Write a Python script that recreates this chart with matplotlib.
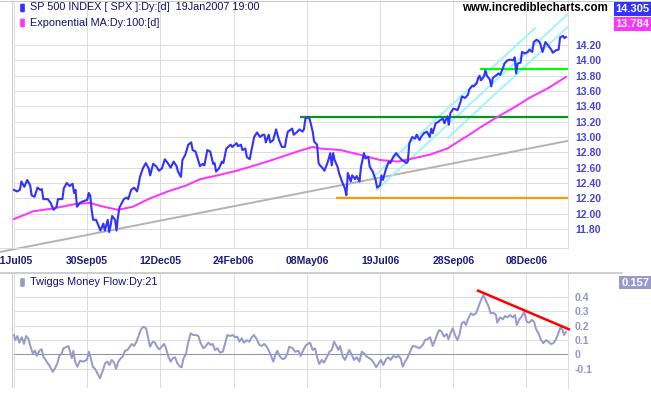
import matplotlib.pyplot as plt
from matplotlib.patches import Rectangle, FancyBboxPatch
from matplotlib.lines import Line2D

plt.rcParams['font.family'] = ['Liberation Sans', 'DejaVu Sans']

# x = trading days counted from 21 Jul 2005
date_ticks = [0, 50, 100, 150, 200, 250, 300, 350]
date_labels = ["21Jul05", "30Sep05", "12Dec05", "24Feb06", "08May06", "19Jul06", "28Sep06", "08Dec06"]
price_ticks = [11.8, 12.0, 12.2, 12.4, 12.6, 12.8, 13.0, 13.2, 13.4, 13.6, 13.8, 14.0, 14.2]
tmf_ticks = [-0.1, 0, 0.1, 0.2, 0.3, 0.4]
tmf_tick_labels = ["-0.1", "0", "0.1", "0.2", "0.3", "0.4"]

price_day = [0, 2, 4, 5, 7, 9, 11, 12, 14, 16, 18, 19, 20, 23, 25, 27, 29, 30, 33, 34,
             36, 38, 40, 41, 42, 43, 45, 47, 50, 51, 52, 53, 54, 56, 58, 59, 61, 62, 64, 65,
             66, 67, 69, 70, 71, 72, 75, 77, 78, 80, 82, 84, 85, 86, 88, 90, 92, 93, 95, 97,
             99, 101, 103, 105, 107, 109, 111, 112, 114, 115, 117, 119, 121, 122, 124, 127, 129, 130, 132, 134,
             136, 137, 138, 140, 142, 143, 145, 148, 149, 152, 153, 155, 156, 158, 159, 161, 162, 164, 166, 168,
             170, 171, 172, 174, 175, 177, 179, 181, 183, 185, 186, 187, 190, 191, 193, 195, 197, 198, 199, 201,
             202, 204, 205, 207, 208, 209, 211, 212, 214, 215, 216, 217, 218, 219, 221, 222, 224, 226, 227, 228,
             230, 231, 233, 234, 236, 237, 239, 240, 242, 243, 245, 247, 248, 250, 251, 252, 254, 256, 257, 259,
             261, 263, 265, 266, 268, 269, 270, 272, 274, 275, 277, 278, 280, 282, 284, 285, 286, 288, 290, 291,
             293, 294, 296, 297, 298, 300, 302, 303, 305, 306, 308, 310, 311, 313, 314, 316, 317, 318, 319, 321,
             322, 323, 325, 326, 327, 329, 331, 332, 334, 335, 337, 339, 341, 342, 343, 344, 346, 347, 349, 351,
             352, 354, 355, 357, 359, 360, 361, 363, 365, 367, 368, 370, 372, 373, 375, 376, 377]
price_val = [12.31, 12.29, 12.31, 12.42, 12.35, 12.44, 12.37, 12.24, 12.22, 12.34, 12.31, 12.32, 12.19, 12.19, 12.14, 12.05, 12.09, 12.19, 12.19, 12.33,
             12.40, 12.36, 12.39, 12.27, 12.31, 12.09, 12.14, 12.16, 12.18, 12.27, 12.24, 12.05, 11.92, 11.92, 11.83, 11.78, 11.87, 11.78, 11.92, 11.76,
             11.85, 11.97, 11.92, 11.78, 11.96, 12.08, 12.19, 12.21, 12.19, 12.31, 12.34, 12.29, 12.37, 12.48, 12.59, 12.66, 12.59, 12.50, 12.65, 12.62,
             12.56, 12.59, 12.71, 12.66, 12.60, 12.68, 12.62, 12.55, 12.48, 12.70, 12.77, 12.90, 12.93, 12.83, 12.81, 12.62, 12.65, 12.63, 12.83, 12.81,
             12.65, 12.66, 12.55, 12.59, 12.68, 12.66, 12.85, 12.90, 12.87, 12.92, 12.88, 12.90, 12.83, 12.85, 12.74, 12.71, 12.81, 13.00, 13.06, 13.00,
             13.03, 13.03, 12.93, 13.03, 12.93, 12.96, 13.10, 12.96, 12.87, 12.87, 12.98, 13.07, 13.11, 13.03, 13.06, 13.10, 13.07, 13.10, 13.24, 13.26,
             13.23, 13.07, 12.94, 12.90, 12.66, 12.63, 12.59, 12.56, 12.66, 12.72, 12.79, 12.63, 12.79, 12.70, 12.61, 12.53, 12.42, 12.33, 12.24, 12.53,
             12.42, 12.50, 12.45, 12.49, 12.42, 12.61, 12.79, 12.72, 12.74, 12.61, 12.55, 12.44, 12.34, 12.37, 12.50, 12.44, 12.58, 12.68, 12.66, 12.74,
             12.79, 12.74, 12.70, 12.69, 12.66, 12.68, 12.92, 13.00, 12.98, 13.03, 12.96, 13.00, 13.05, 13.07, 13.00, 13.11, 13.05, 13.18, 13.20, 13.22,
             13.24, 13.18, 13.27, 13.16, 13.31, 13.37, 13.36, 13.35, 13.46, 13.53, 13.51, 13.55, 13.62, 13.67, 13.66, 13.70, 13.77, 13.80, 13.74, 13.79,
             13.87, 13.80, 13.75, 13.66, 13.77, 13.80, 13.83, 13.81, 13.90, 13.96, 14.00, 14.01, 14.00, 14.04, 13.83, 13.96, 13.97, 14.11, 14.09, 14.11,
             14.14, 14.11, 14.24, 14.27, 14.24, 14.18, 14.11, 14.24, 14.19, 14.14, 14.10, 14.13, 14.14, 14.30, 14.32, 14.29, 14.305]

ema_day = [0, 13, 27, 43, 52, 59, 71, 81, 93, 105, 118, 127, 139, 150, 161, 173, 184, 195, 204, 209,
           223, 236, 250, 262, 270, 284, 296, 305, 311, 318, 330, 341, 352, 365, 377]
ema_val = [11.93, 12.03, 12.07, 12.13, 12.14, 12.10, 12.05, 12.09, 12.20, 12.29, 12.37, 12.45, 12.50, 12.55, 12.61, 12.68, 12.75, 12.82, 12.87, 12.85,
           12.83, 12.77, 12.70, 12.68, 12.71, 12.77, 12.85, 12.96, 13.03, 13.12, 13.26, 13.38, 13.51, 13.64, 13.784]

tmf_day = [0.0, 0.7, 2.3, 3.6, 5.3, 6.8, 8.2, 9.8, 10.9, 12.8, 14.3, 15.5, 17.3, 18.9, 20.0, 22.3, 24.6, 26.4, 28.0, 29.6,
           30.9, 32.6, 33.7, 35.5, 37.1, 38.3, 39.4, 40.5, 41.7, 43.2, 45.1, 47.3, 49.7, 51.2, 52.4, 53.8, 55.3, 56.9, 58.7, 60.6,
           62.2, 63.7, 65.1, 66.7, 68.3, 69.7, 71.2, 72.9, 74.2, 75.8, 77.4, 78.8, 80.4, 82.0, 83.3, 84.9, 86.5, 88.3, 90.2, 91.7,
           92.9, 94.7, 96.3, 97.9, 99.2, 100.9, 102.5, 103.8, 105.4, 107.0, 108.4, 110.0, 111.5, 113.4, 114.5, 115.6, 117.5, 119.1, 120.7, 122.5,
           124.3, 125.9, 127.5, 129.3, 131.1, 132.7, 134.4, 135.7, 137.3, 138.9, 140.7, 142.6, 144.1, 145.7, 147.5, 149.4, 151.0, 152.5, 153.9, 155.5,
           157.1, 158.9, 160.7, 162.4, 163.9, 165.8, 167.6, 169.2, 170.8, 172.6, 174.4, 176.0, 177.1, 178.3, 179.8, 181.7, 183.5, 185.1, 186.7, 188.0,
           190.4, 191.9, 194.2, 195.8, 197.6, 199.5, 202.2, 204.0, 205.6, 207.2, 208.5, 210.2, 211.7, 213.6, 215.4, 217.0, 218.6, 219.9, 221.5, 222.7,
           224.5, 226.1, 227.7, 229.0, 230.7, 232.2, 234.1, 235.9, 237.5, 239.1, 240.9, 242.7, 244.3, 245.9, 247.3, 248.8, 250.5, 252.3, 254.1, 255.7,
           257.3, 259.1, 260.9, 262.5, 264.1, 265.5, 267.1, 268.6, 270.5, 272.3, 274.6, 276.8, 279.2, 280.7, 282.3, 284.2, 286.0, 287.6, 289.1, 290.5,
           292.1, 293.7, 295.6, 296.7, 298.3, 299.7, 301.2, 302.8, 304.2, 305.8, 307.4, 308.7, 310.3, 312.0, 313.7, 315.6, 317.1, 318.8, 320.6, 322.4,
           324.0, 325.6, 327.4, 329.2, 330.1, 332.0, 333.8, 335.4, 337.0, 338.8, 340.6, 342.2, 343.4, 345.2, 346.8, 348.4, 350.2, 352.0, 353.6, 355.2,
           356.6, 358.1, 359.8, 361.5, 363.4, 364.9, 366.6, 368.4, 370.2, 371.8, 373.4, 374.8, 375.7, 377.0]
tmf_val = [0.135, 0.10, 0.128, 0.082, 0.12, 0.073, 0.128, 0.11, 0.066, 0.008, 0.026, -0.01, 0.026, 0.036, -0.015, -0.05, -0.085, -0.12, -0.096, -0.061,
           -0.01, 0.008, 0.043, 0.05, 0.059, 0.019, -0.026, 0.026, -0.05, -0.085, -0.043, -0.05, -0.038, 0.019, -0.026, -0.085, -0.10, -0.13, -0.165, -0.112,
           -0.061, -0.05, -0.073, -0.038, -0.057, -0.10, -0.05, -0.026, -0.015, 0.026, 0.031, 0.05, 0.073, 0.059, 0.082, 0.124, 0.17, 0.193, 0.182, 0.11,
           0.054, 0.089, 0.082, 0.05, 0.036, 0.054, 0.073, 0.043, -0.015, -0.05, -0.026, -0.02, -0.061, -0.085, -0.089, -0.033, 0.008, 0.089, 0.147, 0.135,
           0.135, 0.128, 0.078, 0.043, 0.059, 0.082, 0.066, 0.073, 0.031, 0.043, 0.013, 0.019, 0.073, 0.135, 0.128, 0.135, 0.12, 0.124, 0.089, 0.112,
           0.082, 0.10, 0.089, 0.12, 0.135, 0.105, 0.066, 0.059, 0.073, 0.054, 0.019, -0.02, -0.05, -0.01, 0.026, -0.015, -0.033, -0.026, 0.008, 0.054,
           0.043, 0.019, 0.026, -0.01, 0.031, 0.066, 0.082, 0.031, 0.043, -0.026, -0.066, -0.038, -0.057, -0.02, 0.019, 0.031, 0.089, 0.066, 0.031, 0.059,
           -0.015, -0.038, 0.003, 0.031, -0.003, -0.038, -0.02, -0.05, 0.019, 0.008, -0.015, -0.026, -0.038, -0.061, -0.089, -0.066, -0.038, -0.073, -0.033, -0.02,
           -0.038, -0.01, -0.02, -0.01, -0.026, -0.085, -0.05, -0.026, 0.019, 0.059, 0.054, 0.043, 0.066, 0.10, 0.105, 0.12, 0.059, 0.10, 0.142, 0.17,
           0.158, 0.124, 0.142, 0.105, 0.151, 0.182, 0.135, 0.10, 0.135, 0.217, 0.228, 0.205, 0.251, 0.286, 0.274, 0.286, 0.328, 0.374, 0.413, 0.374,
           0.337, 0.286, 0.29, 0.274, 0.221, 0.258, 0.244, 0.267, 0.258, 0.274, 0.258, 0.274, 0.205, 0.244, 0.263, 0.297, 0.228, 0.221, 0.24, 0.228,
           0.175, 0.151, 0.105, 0.078, 0.10, 0.089, 0.073, 0.078, 0.105, 0.147, 0.193, 0.165, 0.135, 0.157]

# hand-drawn trend and support lines (day, value)
trend_day = [-9.6, 378.4]
trend_val = [11.50, 12.95]
channel_upper_day = [245.4, 355.9]
channel_upper_val = [12.48, 14.42]
channel_mid_day = [247.7, 378.4]
channel_mid_val = [12.31, 14.605]
channel_low_day = [296.4, 378.4]
channel_low_val = [12.99, 14.44]
support_dark = (195, 13.26)
support_bright = (318, 13.89)
support_orange = (220, 12.20)
tmf_trend_day = [317, 379]
tmf_trend_val = [0.443, 0.175]

W, H = 651, 395
XL, XR = -9.6, 378.4
GRID = '#dddddd'
px = 0.72  # one pixel in points

fig = plt.figure(figsize=(W / 100, H / 100), dpi=100)
ax = fig.add_axes([0, 1 - 248 / H, 568 / W, 248 / H])
ax2 = fig.add_axes([0, 7 / H, 568 / W, 115 / H])

# price panel
ax.set_xlim(XL, XR)
ax.set_ylim(11.552, 14.788)
ax.hlines(price_ticks, 0, XR, color=GRID, lw=px, zorder=0)
ax.vlines(date_ticks, 11.552, 14.788, color=GRID, lw=px, zorder=0)
ax.vlines([-1.2], 11.552, 14.788, color='#cccccc', lw=px, zorder=0)

ax.plot(trend_day, trend_val, color='#b4b4b4', lw=2 * px, clip_on=False, zorder=1)
ax.plot(channel_upper_day, channel_upper_val, color='#a0f4ff', lw=2 * px, zorder=1)
ax.plot(channel_mid_day, channel_mid_val, color='#a0f4ff', lw=2 * px, zorder=1)
ax.plot(channel_low_day, channel_low_val, color='#a0f4ff', lw=2 * px, zorder=1)
ax.hlines(support_dark[1], support_dark[0], XR, color='#00991a', lw=2.2 * px, zorder=2)
ax.hlines(support_bright[1], support_bright[0], XR, color='#00ff00', lw=2.2 * px, zorder=2)
ax.hlines(support_orange[1], support_orange[0], XR, color='#ff9900', lw=2.2 * px, zorder=2)
ax.plot(ema_day, ema_val, color='#ff33ff', lw=2 * px, zorder=3)
ax.plot(price_day, price_val, color='#3333ff', lw=2.1 * px, zorder=4)

ax.set_xticks(date_ticks)
ax.set_xticklabels(date_labels)
ax.set_yticks(price_ticks)
ax.set_yticklabels([f"{t:.2f}" for t in price_ticks])
ax.yaxis.tick_right()
ax.tick_params(axis='y', length=0, pad=5, labelsize=7.5, labelcolor='#4646d2')
ax.tick_params(axis='x', length=0, pad=5.5, labelsize=7.5, labelcolor='#1a1a80')
for lab in ax.get_xticklabels() + ax.get_yticklabels():
    lab.set_fontweight('bold')
for s in ['left', 'top']:
    ax.spines[s].set_visible(False)
for s in ['right', 'bottom']:
    ax.spines[s].set_color(GRID)
    ax.spines[s].set_linewidth(px)

# money flow panel
ax2.set_xlim(XL, XR)
ax2.set_ylim(-0.233, 0.566)
ax2.hlines([t for t in tmf_ticks if t != 0], 0, XR, color=GRID, lw=px, zorder=0)
ax2.vlines(date_ticks, -0.233, 0.566, color=GRID, lw=px, zorder=0)
ax2.vlines([-1.2], -0.233, 0.566, color='#cccccc', lw=px, zorder=0)
ax2.hlines(0, 0, XR, color='#8c8cc8', lw=px, zorder=1)
ax2.plot(tmf_day, tmf_val, color='#9999cc', lw=2 * px, zorder=2)
ax2.plot(tmf_trend_day, tmf_trend_val, color='#ff0000', lw=2.5 * px, zorder=3, clip_on=False)
ax2.set_xticks([])
ax2.set_yticks(tmf_ticks)
ax2.set_yticklabels(tmf_tick_labels)
ax2.yaxis.tick_right()
ax2.tick_params(axis='y', length=0, pad=5, labelsize=7.5, labelcolor='#9494cc')
for lab in ax2.get_yticklabels():
    lab.set_fontweight('bold')
for s in ['left', 'top', 'bottom']:
    ax2.spines[s].set_visible(False)
ax2.spines['right'].set_color(GRID)
ax2.spines['right'].set_linewidth(px)


# frame lines, legends and value boxes, placed in figure pixels
def fx(x):
    return x / W


def fy(y):
    return 1 - y / H


fig.add_artist(Line2D([0, 1], [fy(0.5), fy(0.5)], color='#c8c8c8', lw=px))
fig.add_artist(Line2D([0, fx(622)], [fy(272.5), fy(272.5)], color='#c0c0c0', lw=1.5 * px))


def legend_item(y, color, text):
    fig.add_artist(FancyBboxPatch((fx(20.5), fy(y + 4.5)), fx(4), 8 / H,
                                  boxstyle='round,pad=0,rounding_size=0.002',
                                  facecolor=color, edgecolor=color, lw=0.5))
    fig.text(fx(30), fy(y), text, color='#10106e', fontsize=7.8, va='center', ha='left')


legend_item(7.5, '#3333ff', "SP 500 INDEX [ SPX ]:Dy:[d]  19Jan2007 19:00")
legend_item(22.5, '#ff33ff', "Exponential MA:Dy:100:[d]")
legend_item(282, '#9999cc', "Twiggs Money Flow:Dy:21")

fig.text(fx(462), fy(8), "www.incrediblecharts.com", color='black', fontsize=8.3,
         fontweight='bold', va='center', ha='left')


def value_box(x0, y0, w, h, color, text):
    fig.add_artist(Rectangle((fx(x0), fy(y0 + h)), w / W, h / H, facecolor=color, edgecolor='none'))
    fig.text(fx(x0 + w / 2), fy(y0 + h / 2), text, color='white', fontsize=8,
             fontweight='bold', va='center', ha='center')


value_box(614, 2, 37, 14, '#3333ff', "14.305")
value_box(614, 17, 37, 14, '#ff33ff', "13.784")
value_box(619, 276, 32, 13, '#9999cc', "0.157")

fig.savefig("out.png", dpi=100)
